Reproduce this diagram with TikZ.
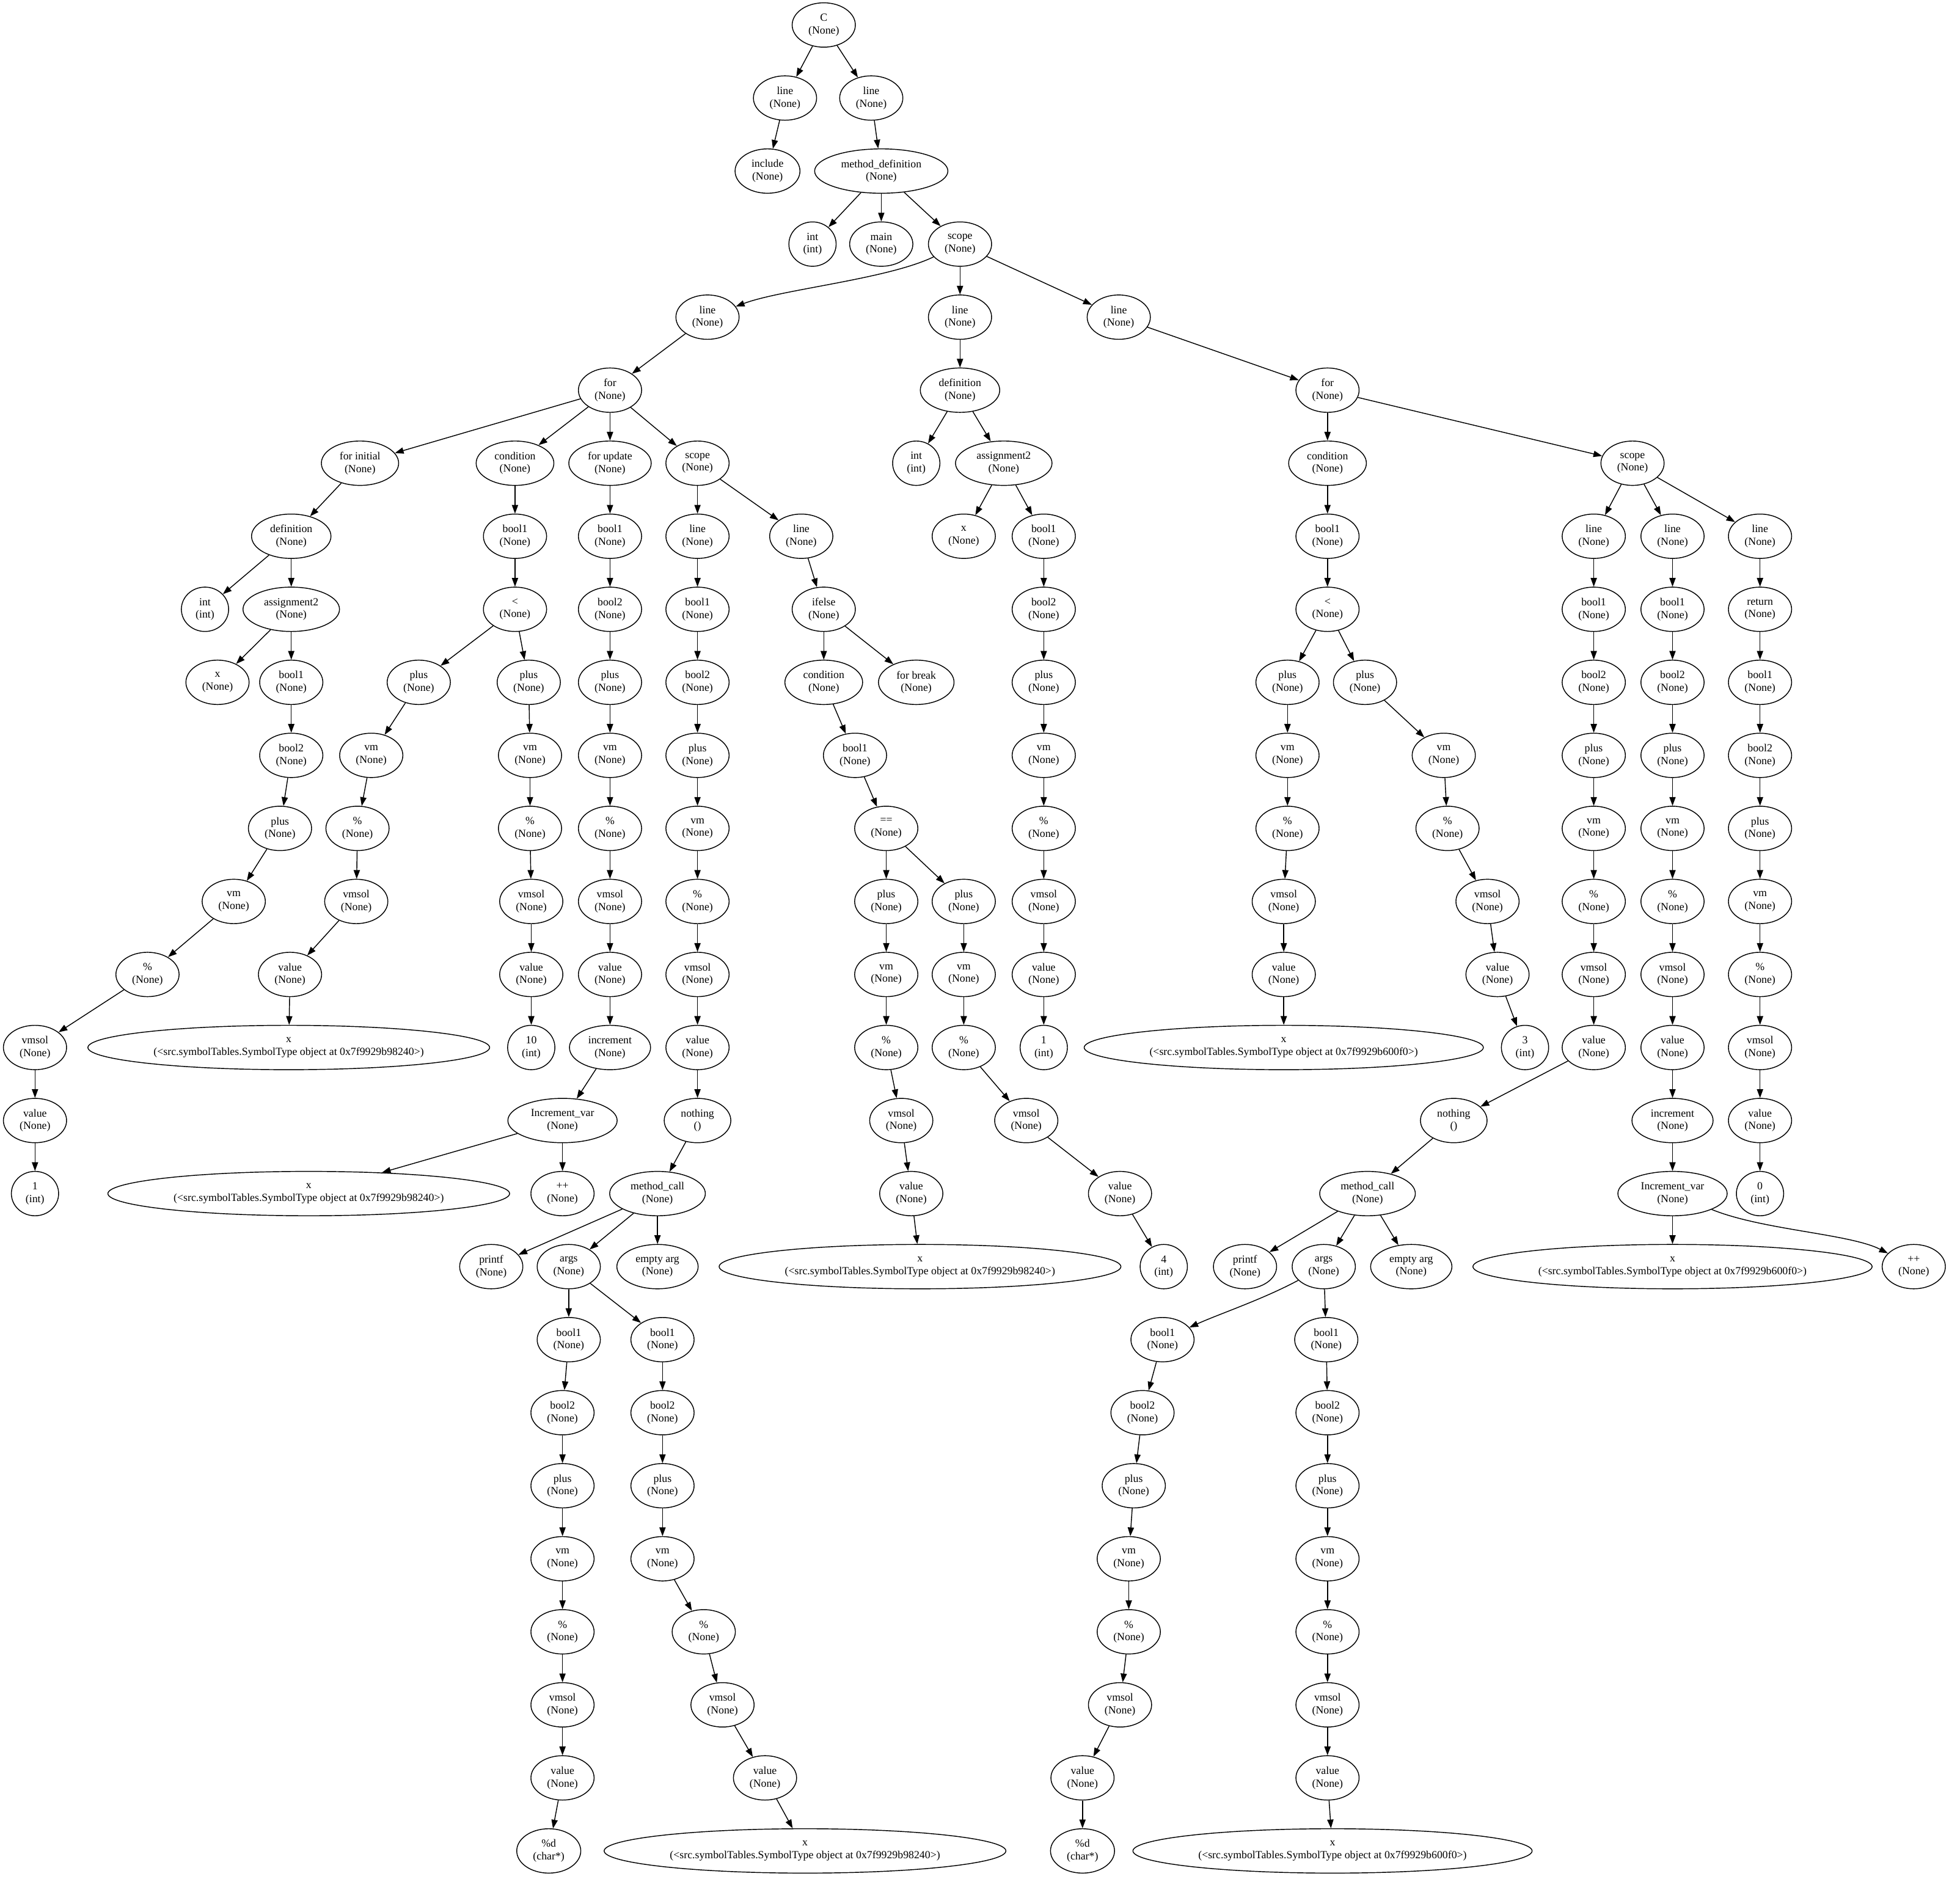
\documentclass[tikz,border=0pt]{standalone}
\usepackage{fontspec}
\setmainfont{Liberation Serif}
\usetikzlibrary{arrows.meta,shapes.geometric}
\newcommand\mkn[5]{\node[nd] (#1) at (#2,#3) {#4\\(#5)};}
\newcommand\mkx[4]{\node[nd] (#1) at (#2,#3) {x\\(<src.symbolTables.SymbolType object at 0x7f9929b#4>)};}
\begin{document}
\begin{tikzpicture}[x=1pt,y=-58.44pt,
 nd/.style={ellipse,draw,line width=0.7pt,inner xsep=5.55pt,inner ysep=2.75pt,minimum height=35.5pt,minimum width=37.8pt,align=center,font=\fontsize{8.7}{10.1}\selectfont},
 conn/.style={-{Triangle[length=7pt,width=5pt]},line width=0.7pt}]
\useasboundingbox[fill=white] (0pt,0pt) rectangle (1568pt,-1503pt);
\begin{scope}[yshift=-20pt]
\mkn{n0}{659}{0}{C}{None}
\mkn{n1a}{628}{1}{line}{None}
\mkn{n1b}{697}{1}{line}{None}
\mkn{inc}{614}{2}{include}{None}
\mkn{md}{705}{2}{method\_definition}{None}
\mkn{mdint}{650}{3}{int}{int}
\mkn{main}{705}{3}{main}{None}
\mkn{sc0}{768}{3}{scope}{None}
\mkn{L1}{566}{4}{line}{None}
\mkn{L2}{768}{4}{line}{None}
\mkn{L3}{895}{4}{line}{None}
\mkn{for1}{488}{5}{for}{None}
\mkn{def2}{768}{5}{definition}{None}
\mkn{for3}{1062}{5}{for}{None}
\mkn{fi}{288}{6}{for initial}{None}
\mkn{cond1}{412}{6}{condition}{None}
\mkn{fu}{488}{6}{for update}{None}
\mkn{sc1}{558}{6}{scope}{None}
\mkn{int2}{733}{6}{int}{int}
\mkn{as2}{803}{6}{assignment2}{None}
\mkn{cond3}{1062}{6}{condition}{None}
\mkn{sc3}{1306}{6}{scope}{None}
\mkn{def1}{233}{7}{definition}{None}
\mkn{c1b1}{412}{7}{bool1}{None}
\mkn{fub1}{488}{7}{bool1}{None}
\mkn{s1l1}{558}{7}{line}{None}
\mkn{s1l2}{641}{7}{line}{None}
\mkn{x2}{771}{7}{x}{None}
\mkn{a2b1}{835}{7}{bool1}{None}
\mkn{c3b1}{1062}{7}{bool1}{None}
\mkn{s3l1}{1275}{7}{line}{None}
\mkn{s3l2}{1338}{7}{line}{None}
\mkn{s3l3}{1408}{7}{line}{None}
\mkn{d1int}{164}{8}{int}{int}
\mkn{a1}{233}{8}{assignment2}{None}
\mkn{lt1}{412}{8}{<}{None}
\mkn{fub2}{488}{8}{bool2}{None}
\mkn{s1b1}{558}{8}{bool1}{None}
\mkn{ife}{659}{8}{ifelse}{None}
\mkn{a2b2}{835}{8}{bool2}{None}
\mkn{lt3}{1062}{8}{<}{None}
\mkn{s3ab1}{1275}{8}{bool1}{None}
\mkn{s3bb1}{1338}{8}{bool1}{None}
\mkn{ret}{1408}{8}{return}{None}
\mkn{x1}{174}{9}{x}{None}
\mkn{a1b1}{233}{9}{bool1}{None}
\mkn{p1}{335}{9}{plus}{None}
\mkn{p2}{423}{9}{plus}{None}
\mkn{fup}{488}{9}{plus}{None}
\mkn{s1b2}{558}{9}{bool2}{None}
\mkn{ifc}{659}{9}{condition}{None}
\mkn{fb}{733}{9}{for break}{None}
\mkn{a2p}{835}{9}{plus}{None}
\mkn{p3}{1030}{9}{plus}{None}
\mkn{p4}{1092}{9}{plus}{None}
\mkn{s3ab2}{1275}{9}{bool2}{None}
\mkn{s3bb2}{1338}{9}{bool2}{None}
\mkn{rb1}{1408}{9}{bool1}{None}
\mkn{a1b2}{233}{10}{bool2}{None}
\mkn{p1vm}{297}{10}{vm}{None}
\mkn{p2vm}{424}{10}{vm}{None}
\mkn{fuvm}{488}{10}{vm}{None}
\mkn{s1p}{558}{10}{plus}{None}
\mkn{icb1}{684}{10}{bool1}{None}
\mkn{a2vm}{835}{10}{vm}{None}
\mkn{p3vm}{1030}{10}{vm}{None}
\mkn{p4vm}{1155}{10}{vm}{None}
\mkn{s3ap}{1275}{10}{plus}{None}
\mkn{s3bp}{1338}{10}{plus}{None}
\mkn{rb2}{1408}{10}{bool2}{None}
\mkn{a1p}{224}{11}{plus}{None}
\mkn{p1pc}{286}{11}{\%}{None}
\mkn{p2pc}{424}{11}{\%}{None}
\mkn{fupc}{488}{11}{\%}{None}
\mkn{s1vm}{558}{11}{vm}{None}
\mkn{eq}{709}{11}{==}{None}
\mkn{a2pc}{835}{11}{\%}{None}
\mkn{p3pc}{1030}{11}{\%}{None}
\mkn{p4pc}{1158}{11}{\%}{None}
\mkn{s3avm}{1275}{11}{vm}{None}
\mkn{s3bvm}{1338}{11}{vm}{None}
\mkn{rp}{1408}{11}{plus}{None}
\mkn{a1vm}{187}{12}{vm}{None}
\mkn{p1vs}{285}{12}{vmsol}{None}
\mkn{p2vs}{425}{12}{vmsol}{None}
\mkn{fuvs}{488}{12}{vmsol}{None}
\mkn{s1pc}{558}{12}{\%}{None}
\mkn{e1}{709}{12}{plus}{None}
\mkn{e2}{771}{12}{plus}{None}
\mkn{a2vs}{835}{12}{vmsol}{None}
\mkn{p3vs}{1027}{12}{vmsol}{None}
\mkn{p4vs}{1190}{12}{vmsol}{None}
\mkn{s3apc}{1275}{12}{\%}{None}
\mkn{s3bpc}{1338}{12}{\%}{None}
\mkn{rvm}{1408}{12}{vm}{None}
\mkn{a1pc}{118}{13}{\%}{None}
\mkn{p1v}{232}{13}{value}{None}
\mkn{p2v}{425}{13}{value}{None}
\mkn{fuv}{488}{13}{value}{None}
\mkn{s1vs}{558}{13}{vmsol}{None}
\mkn{e1vm}{709}{13}{vm}{None}
\mkn{e2vm}{771}{13}{vm}{None}
\mkn{a2v}{835}{13}{value}{None}
\mkn{p3v}{1027}{13}{value}{None}
\mkn{p4v}{1198}{13}{value}{None}
\mkn{s3avs}{1275}{13}{vmsol}{None}
\mkn{s3bvs}{1338}{13}{vmsol}{None}
\mkn{rpc}{1408}{13}{\%}{None}
\mkn{a1vs}{28}{14}{vmsol}{None}
\mkx{p1x}{231}{14}{98240}
\mkn{p2t}{425}{14}{10}{int}
\mkn{fuinc}{488}{14}{increment}{None}
\mkn{s1v}{558}{14}{value}{None}
\mkn{e1pc}{709}{14}{\%}{None}
\mkn{e2pc}{771}{14}{\%}{None}
\mkn{a2o}{835}{14}{1}{int}
\mkx{p3x}{1027}{14}{600f0}
\mkn{p4t}{1220}{14}{3}{int}
\mkn{s3av}{1275}{14}{value}{None}
\mkn{s3bv}{1338}{14}{value}{None}
\mkn{rvs}{1408}{14}{vmsol}{None}
\mkn{a1v}{28}{15}{value}{None}
\mkn{fuiv}{450}{15}{Increment\_var}{None}
\mkn{s1no}{558}{15}{nothing}{}
\mkn{e1vs}{721}{15}{vmsol}{None}
\mkn{e2vs}{821}{15}{vmsol}{None}
\mkn{s3ano}{1163}{15}{nothing}{}
\mkn{s3binc}{1338}{15}{increment}{None}
\mkn{rv}{1408}{15}{value}{None}
\mkn{a1o}{28}{16}{1}{int}
\mkx{fux}{247}{16}{98240}
\mkn{fupp}{450}{16}{++}{None}
\mkn{s1mc}{526}{16}{method\_call}{None}
\mkn{e1v}{729}{16}{value}{None}
\mkn{e2v}{896}{16}{value}{None}
\mkn{s3amc}{1094}{16}{method\_call}{None}
\mkn{s3biv}{1338}{16}{Increment\_var}{None}
\mkn{rz}{1408}{16}{0}{int}
\mkn{s1pf}{393}{17}{printf}{None}
\mkn{s1ar}{455}{17}{args}{None}
\mkn{s1ea}{526}{17}{empty arg}{None}
\mkx{e1x}{736}{17}{98240}
\mkn{e2f}{931}{17}{4}{int}
\mkn{s3pf}{996}{17}{printf}{None}
\mkn{s3ar}{1059}{17}{args}{None}
\mkn{s3ea}{1129}{17}{empty arg}{None}
\mkx{s3bx}{1338}{17}{600f0}
\mkn{s3bpp}{1531}{17}{++}{None}
% chain 1
\mkn{g1a}{455}{18}{bool1}{None}
\mkn{g1b}{450}{19}{bool2}{None}
\mkn{g1c}{450}{20}{plus}{None}
\mkn{g1d}{450}{21}{vm}{None}
\mkn{g1e}{450}{22}{\%}{None}
\mkn{g1f}{450}{23}{vmsol}{None}
\mkn{g1g}{450}{24}{value}{None}
\node[nd] (g1h) at (439,25) {\%d\\(char*)};
% chain 2
\mkn{g2a}{530}{18}{bool1}{None}
\mkn{g2b}{530}{19}{bool2}{None}
\mkn{g2c}{530}{20}{plus}{None}
\mkn{g2d}{530}{21}{vm}{None}
\mkn{g2e}{563}{22}{\%}{None}
\mkn{g2f}{578}{23}{vmsol}{None}
\mkn{g2g}{612}{24}{value}{None}
\mkx{g2h}{644}{25}{98240}
% chain 3
\mkn{g3a}{930}{18}{bool1}{None}
\mkn{g3b}{914}{19}{bool2}{None}
\mkn{g3c}{907}{20}{plus}{None}
\mkn{g3d}{903}{21}{vm}{None}
\mkn{g3e}{903}{22}{\%}{None}
\mkn{g3f}{896}{23}{vmsol}{None}
\mkn{g3g}{866}{24}{value}{None}
\node[nd] (g3h) at (866,25) {\%d\\(char*)};
% chain 4
\mkn{g4a}{1061}{18}{bool1}{None}
\mkn{g4b}{1062}{19}{bool2}{None}
\mkn{g4c}{1062}{20}{plus}{None}
\mkn{g4d}{1062}{21}{vm}{None}
\mkn{g4e}{1062}{22}{\%}{None}
\mkn{g4f}{1062}{23}{vmsol}{None}
\mkn{g4g}{1062}{24}{value}{None}
\mkx{g4h}{1066}{25}{600f0}
% edges
\foreach \a/\b in {n0/n1a,n0/n1b,n1a/inc,n1b/md,md/mdint,md/main,md/sc0,sc0/L2,sc0/L3,L1/for1,L2/def2,L3/for3,
 for1/fi,for1/cond1,for1/fu,for1/sc1,def2/int2,def2/as2,for3/cond3,for3/sc3,
 fi/def1,cond1/c1b1,fu/fub1,sc1/s1l1,sc1/s1l2,as2/x2,as2/a2b1,cond3/c3b1,sc3/s3l1,sc3/s3l2,sc3/s3l3,
 def1/d1int,def1/a1,c1b1/lt1,fub1/fub2,s1l1/s1b1,s1l2/ife,a2b1/a2b2,c3b1/lt3,s3l1/s3ab1,s3l2/s3bb1,s3l3/ret,
 a1/x1,a1/a1b1,lt1/p1,lt1/p2,fub2/fup,s1b1/s1b2,ife/ifc,ife/fb,a2b2/a2p,lt3/p3,lt3/p4,s3ab1/s3ab2,s3bb1/s3bb2,ret/rb1,
 a1b1/a1b2,p1/p1vm,p2/p2vm,fup/fuvm,s1b2/s1p,ifc/icb1,a2p/a2vm,p3/p3vm,p4/p4vm,s3ab2/s3ap,s3bb2/s3bp,rb1/rb2,
 a1b2/a1p,p1vm/p1pc,p2vm/p2pc,fuvm/fupc,s1p/s1vm,icb1/eq,a2vm/a2pc,p3vm/p3pc,p4vm/p4pc,s3ap/s3avm,s3bp/s3bvm,rb2/rp,
 a1p/a1vm,p1pc/p1vs,p2pc/p2vs,fupc/fuvs,s1vm/s1pc,eq/e1,eq/e2,a2pc/a2vs,p3pc/p3vs,p4pc/p4vs,s3avm/s3apc,s3bvm/s3bpc,rp/rvm,
 a1vm/a1pc,p1vs/p1v,p2vs/p2v,fuvs/fuv,s1pc/s1vs,e1/e1vm,e2/e2vm,a2vs/a2v,p3vs/p3v,p4vs/p4v,s3apc/s3avs,s3bpc/s3bvs,rvm/rpc,
 a1pc/a1vs,p1v/p1x,p2v/p2t,fuv/fuinc,s1vs/s1v,e1vm/e1pc,e2vm/e2pc,a2v/a2o,p3v/p3x,p4v/p4t,s3avs/s3av,s3bvs/s3bv,rpc/rvs,
 a1vs/a1v,fuinc/fuiv,s1v/s1no,e1pc/e1vs,e2pc/e2vs,s3av/s3ano,s3bv/s3binc,rvs/rv,
 a1v/a1o,fuiv/fux,fuiv/fupp,s1no/s1mc,e1vs/e1v,e2vs/e2v,s3ano/s3amc,s3binc/s3biv,rv/rz,
 s1mc/s1pf,s1mc/s1ar,s1mc/s1ea,e1v/e1x,e2v/e2f,s3amc/s3pf,s3amc/s3ar,s3amc/s3ea,s3biv/s3bx,
 s1ar/g1a,s1ar/g2a,s3ar/g4a}
 \draw[conn] (\a) -- (\b);
\foreach \g in {1,2,3,4}
 \foreach \a/\b in {a/b,b/c,c/d,d/e,e/f,f/g,g/h}
  \draw[conn] (g\g\a) -- (g\g\b);
\draw[conn] (sc0) .. controls (710,3.48) and (625,3.62) .. (L1);
\draw[conn] (s3ar) .. controls (1010,17.45) and (975,17.65) .. (g3a);
\draw[conn] (s3biv) .. controls (1410,16.5) and (1480,16.55) .. (s3bpp);
\end{scope}
\end{tikzpicture}
\end{document}
